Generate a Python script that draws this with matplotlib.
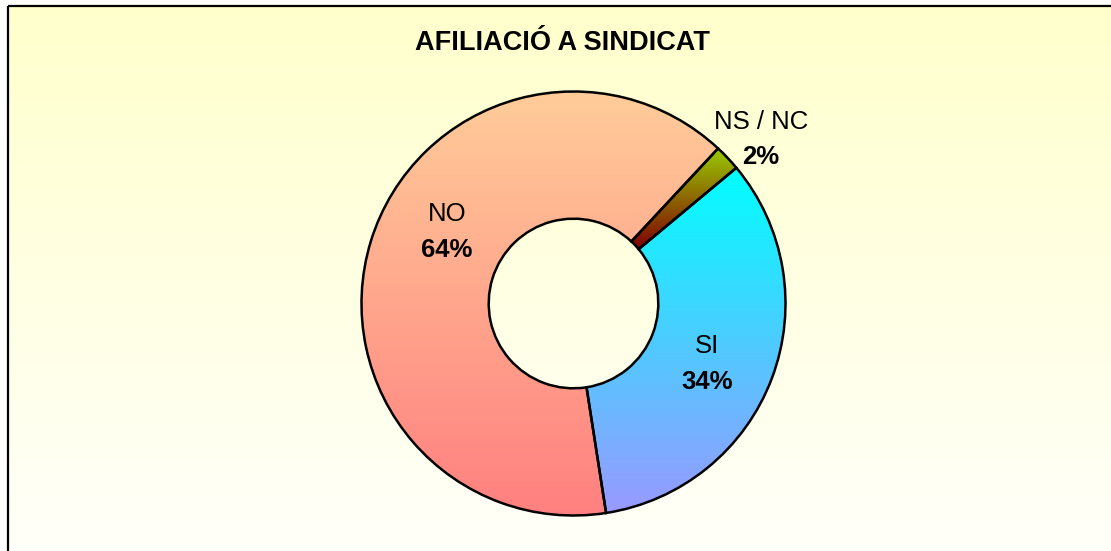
import numpy as np
import matplotlib
matplotlib.use('Agg')
import matplotlib.pyplot as plt
from matplotlib.colors import LinearSegmentedColormap
from matplotlib.patches import Rectangle

# ---- data ----
categories = ['NS / NC', 'SI', 'NO']
values = [2.0, 33.6, 64.4]
pct_labels = ['2%', '34%', '64%']
title = 'AFILIACIÓ A SINDICAT'

# ---- styles ----
grad_top = ['#99CC00', '#00FFFF', '#FFCC99']
grad_bottom = ['#800000', '#9999FF', '#FF8080']
plt.rcParams['font.family'] = ['Liberation Sans', 'DejaVu Sans']

W, H = 1111, 551
fig = plt.figure(figsize=(W / 100, H / 100), dpi=100)
fig.patch.set_facecolor('white')

# background panel (pixel coordinates)
bg = fig.add_axes([0, 0, 1, 1])
grad = np.linspace(0, 1, 256).reshape(-1, 1)
cmap_bg = LinearSegmentedColormap.from_list('bg', ['#FFFFCC', '#FFFFFA'])
bg.imshow(grad, cmap=cmap_bg, extent=(8, W + 5, H + 5, 6), aspect='auto',
          interpolation='bicubic', zorder=0)
bg.add_patch(Rectangle((8, 6), W, H, fill=False, edgecolor='black', lw=1.6, zorder=1))
bg.set_xlim(0, W)
bg.set_ylim(H, 0)
bg.axis('off')

bg.text(562, 43, title, ha='center', va='center', fontsize=19.5, fontweight='bold')

# donut
cx, cy, R = 573.5, 303.5, 212
ax = fig.add_axes([(cx - R) / W, (H - cy - R) / H, 2 * R / W, 2 * R / H])
ax.patch.set_alpha(0)
wedges, _ = ax.pie(values, startangle=47.0, counterclock=False, radius=1,
                   wedgeprops=dict(width=0.6, edgecolor='black', linewidth=1.8,
                                   facecolor='none'))
for w, c0, c1 in zip(wedges, grad_top, grad_bottom):
    ext = w.get_path().get_extents()
    cm = LinearSegmentedColormap.from_list('g', [c0, c1])
    im = ax.imshow(grad, cmap=cm, extent=(ext.x0, ext.x1, ext.y0, ext.y1),
                   aspect='auto', interpolation='bicubic', zorder=0.5)
    im.set_clip_path(w)
ax.set_xlim(-1, 1)
ax.set_ylim(-1, 1)
ax.set_aspect('equal')
ax.axis('off')

# label layout (pixel positions of the two text lines)
label_pos = {'NS / NC': (761, 122, 157), 'SI': (707, 346, 382), 'NO': (447, 214, 250)}
for cat, pct in zip(categories, pct_labels):
    x, y1, y2 = label_pos[cat]
    ax.text(x, y1, cat, ha='center', va='center', fontsize=18.5, zorder=5,
            transform=bg.transData, clip_on=False)
    ax.text(x, y2, pct, ha='center', va='center', fontsize=18.5, fontweight='bold',
            zorder=5, transform=bg.transData, clip_on=False)

fig.savefig('out.png', dpi=100)
